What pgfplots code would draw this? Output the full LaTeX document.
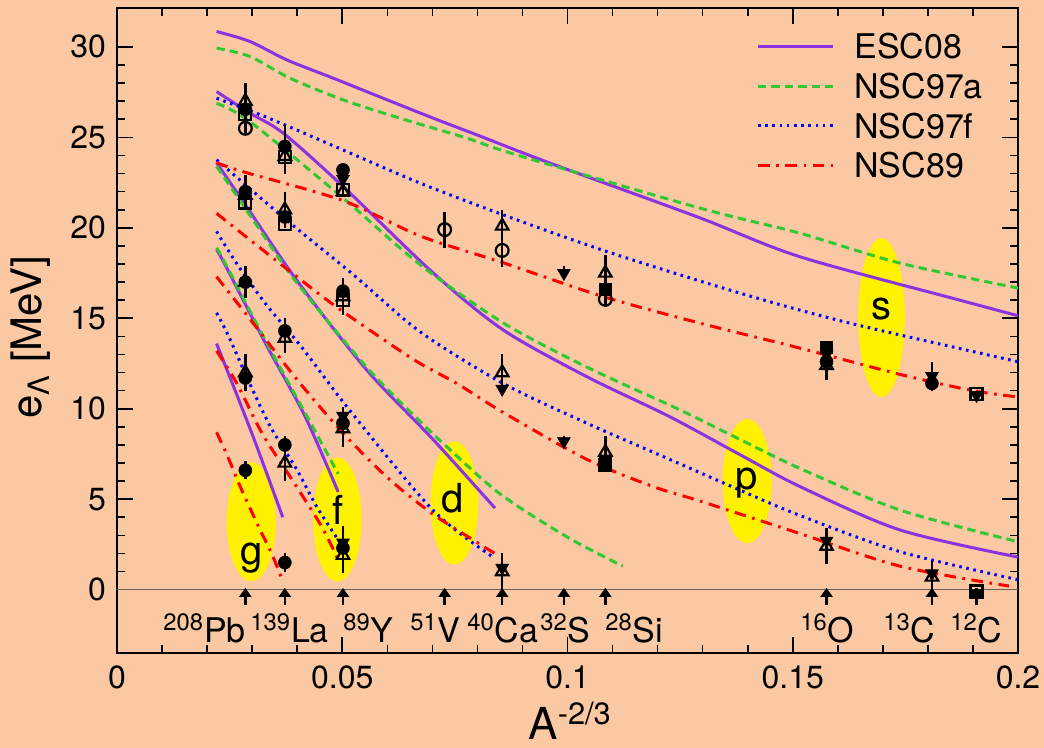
\documentclass[border=0pt]{standalone}
\usepackage{fontspec}
\setmainfont{TeX Gyre Heros}
\usepackage{pgfplots}
\pgfplotsset{compat=1.18}
\usetikzlibrary{arrows.meta}
\definecolor{bg}{RGB}{250,200,162}
\definecolor{esc}{RGB}{140,50,225}
\definecolor{nsca}{RGB}{50,200,50}
\definecolor{nscf}{RGB}{0,0,255}
\definecolor{nscr}{RGB}{255,0,0}
\definecolor{zl}{RGB}{110,95,85}
\tikzset{
  escs/.style={esc, line width=1.5pt, solid},
  nscas/.style={nsca, line width=1.5pt, dash pattern=on 4.2pt off 2.5pt},
  nscfs/.style={nscf, line width=1.5pt, dash pattern=on 1.3pt off 2.3pt},
  nscrs/.style={nscr, line width=1.5pt, dash pattern=on 5.8pt off 3.3pt on 1.3pt off 3.3pt},
}
\pgfplotsset{
  ebar/.style={error bars/.cd, y dir=both, y explicit, error mark=none,
    error bar style={line width=1.2pt, black, solid}},
}
\begin{document}
\begin{tikzpicture}
\fill[bg] (-58.5pt,-47.5pt) rectangle (463.5pt,326.5pt);
\begin{axis}[
  at={(0,0)}, anchor=south west,
  scale only axis, width=450.5pt, height=322.5pt,
  xmin=0, xmax=0.2, ymin=-3.5, ymax=32.15,
  xtick={0,0.05,0.1,0.15,0.2}, xticklabels={0,0.05,0.1,0.15,0.2},
  ytick={0,5,...,30},
  minor x tick num=4, minor y tick num=4,
  tick align=inside,
  major tick length=8pt, minor tick length=4pt,
  every tick/.style={black, line width=0.8pt},
  axis line style={line width=1.3pt},
  scaled x ticks=false,
  /pgf/number format/assume math mode=true,
  tick label style={font=\fontsize{16}{19}\selectfont},
  xticklabel style={yshift=-3pt},
  yticklabel style={xshift=-2pt},
]
% highlight ellipses
\fill[yellow] (axis cs:0.0298,3.75) ellipse [x radius=0.00544, y radius=3.29];
\fill[yellow] (axis cs:0.04893,3.88) ellipse [x radius=0.00537, y radius=3.43];
\fill[yellow] (axis cs:0.0749,4.79) ellipse [x radius=0.00529, y radius=3.41];
\fill[yellow] (axis cs:0.1399,6.0) ellipse [x radius=0.00544, y radius=3.43];
\fill[yellow] (axis cs:0.1697,15.04) ellipse [x radius=0.00518, y radius=4.39];
% zero line
\addplot[zl, line width=0.7pt] coordinates {(0,0) (0.2,0)};
% ESC08
\addplot[escs, smooth] coordinates {(0.0221,30.85) (0.0295,30.3) (0.0377,29.28) (0.048,28.27) (0.0591,27.16) (0.0702,26.06) (0.0813,25.0) (0.0895,24.2) (0.1,23.22) (0.1294,20.55) (0.1516,18.4) (0.1871,16.0) (0.2,15.14)};
\addplot[escs, smooth] coordinates {(0.0221,27.53) (0.0295,26.34) (0.0369,25.23) (0.0502,22.28) (0.0702,17.5) (0.0857,14.36) (0.1043,11.77) (0.1227,9.56) (0.1383,7.46) (0.1516,5.7) (0.1738,3.3) (0.2,1.8)};
\addplot[escs, smooth] coordinates {(0.0221,23.6) (0.0295,20.9) (0.0399,17.1) (0.0554,12.15) (0.0702,8.29) (0.0839,4.51)};
\addplot[escs, smooth] coordinates {(0.0221,18.8) (0.024,17.95) (0.033,13.6) (0.0417,9.6) (0.0491,5.4)};
\addplot[escs, smooth] coordinates {(0.0221,13.6) (0.030,8.6) (0.0368,4.0)};
% NSC97a
\addplot[nscas, smooth] coordinates {(0.0221,29.93) (0.0295,29.47) (0.0384,28.27) (0.0502,27.07) (0.0628,26.06) (0.0776,24.96) (0.0887,24.03) (0.1294,21.09) (0.1516,19.7) (0.1738,18.05) (0.2,16.67)};
\addplot[nscas, smooth] coordinates {(0.0221,26.88) (0.0295,25.87) (0.0502,21.64) (0.0673,17.96) (0.0857,14.75) (0.1043,12.3) (0.1227,10.2) (0.1294,9.4) (0.1383,8.3) (0.1516,6.7) (0.1738,4.4) (0.2,2.65)};
\addplot[nscas, smooth] coordinates {(0.0221,23.4) (0.0295,20.7) (0.0395,17.1) (0.0554,12.3) (0.0673,9.3) (0.0732,7.9) (0.085,5.3) (0.10,2.9) (0.1123,1.3)};
\addplot[nscas, smooth] coordinates {(0.0221,18.9) (0.024,18.05) (0.033,13.75) (0.0417,9.8) (0.0441,8.7) (0.0491,6.4)};
% NSC97f
\addplot[nscfs, smooth] coordinates {(0.0221,27.16) (0.0333,26.1) (0.0502,24.3) (0.0673,22.47) (0.0857,20.72) (0.1087,18.69) (0.1383,16.39) (0.1627,14.73) (0.2,12.6)};
\addplot[nscfs, smooth] coordinates {(0.0221,23.76) (0.0373,20.5) (0.0525,17.4) (0.0673,14.25) (0.0857,11.4) (0.1043,9.2) (0.1227,7.2) (0.1383,5.5) (0.1516,4.1) (0.1738,2.1) (0.2,0.55)};
\addplot[nscfs, smooth] coordinates {(0.0221,19.8) (0.0269,17.9) (0.0333,15.7) (0.041,13.4) (0.0517,9.9) (0.0701,4.4) (0.0835,1.8)};
\addplot[nscfs, smooth] coordinates {(0.0221,15.3) (0.0246,14.1) (0.030,11.1) (0.0343,8.9) (0.040,6.6) (0.0443,4.6) (0.0495,2.6)};
% NSC89
\addplot[nscrs, smooth] coordinates {(0.0221,23.6) (0.028,23.1) (0.0502,21.5) (0.0673,19.55) (0.0857,18.07) (0.1079,16.2) (0.1294,14.73) (0.1516,13.35) (0.1738,11.9) (0.19,11.0) (0.2,10.65)};
\addplot[nscrs, smooth] coordinates {(0.0221,20.8) (0.0456,16.2) (0.0599,13.7) (0.0673,12.5) (0.0754,11.4) (0.0857,9.8) (0.1043,7.2) (0.119,5.7) (0.1294,4.9) (0.1516,3.1) (0.1738,1.3) (0.198,0.2)};
\addplot[nscrs, smooth] coordinates {(0.0221,17.3) (0.03,14.8) (0.04,11.6) (0.05,8.7) (0.06,6.2) (0.07,4.2) (0.08,2.6) (0.0839,2.0)};
\addplot[nscrs, smooth] coordinates {(0.0221,13.2) (0.0266,11.4) (0.0323,8.6) (0.0388,6.1) (0.0454,3.5) (0.049,1.7)};
\addplot[nscrs, smooth] coordinates {(0.0221,8.7) (0.0245,7.4) (0.0277,5.5) (0.0314,3.5) (0.0345,1.9) (0.0366,0.6)};
% data: open squares
\addplot[only marks, mark=square, mark size=3pt, black, mark options={fill=bg, line width=1.1pt}] coordinates {
(0.02849,26.3) (0.03726,23.9) (0.02849,21.4) (0.03726,20.2) (0.05016,22.1) (0.05016,16.0) (0.1084,6.9) (0.1908,10.8) (0.1908,-0.1)};
% filled squares
\addplot[only marks, mark=square*, mark size=3pt, black, ebar] coordinates {
(0.1084,16.6) +- (0,0.3) (0.1084,7.0) +- (0,0.3) (0.1575,13.4) +- (0,0.3)};
% open circles
\addplot[only marks, mark=o, mark size=3.2pt, black, mark options={fill=bg, line width=1.1pt}, ebar] coordinates {
(0.02849,25.5) +- (0,0.3) (0.07273,19.9) +- (0,1.0) (0.0855,18.75) +- (0,0.9) (0.1084,16.05) +- (0,0.45)};
% open triangles
\addplot[only marks, mark=triangle, mark size=3.6pt, black, mark options={fill=bg, line width=1.1pt}, ebar] coordinates {
(0.02849,27.0) +- (0,1.0) (0.03726,23.95) +- (0,1.0) (0.02849,21.8) +- (0,0.6) (0.03726,21.0) +- (0,1.0)
(0.02849,17.0) +- (0,0.5) (0.03726,13.9) +- (0,0.8) (0.02849,12.0) +- (0,1.0) (0.03726,7.0) +- (0,1.0)
(0.05016,22.0) +- (0,0.3) (0.05016,16.2) +- (0,1.0) (0.05016,8.9) +- (0,1.0) (0.05016,1.9) +- (0,1.0)
(0.0855,20.1) +- (0,0.9) (0.0855,12.0) +- (0,1.0) (0.0855,1.0) +- (0,1.0)
(0.1084,17.5) +- (0,1.0) (0.1084,7.6) +- (0,0.9) (0.1575,12.4) +- (0,0.8) (0.1575,2.4) +- (0,1.0) (0.1809,0.7) +- (0,0.9)};
% filled circles
\addplot[only marks, mark=*, mark size=3.2pt, black, ebar] coordinates {
(0.02849,26.55) +- (0,0.4) (0.03726,24.5) +- (0,1.2) (0.02849,22.0) +- (0,0.9) (0.03726,20.6) +- (0,0.4)
(0.02849,17.0) +- (0,0.9) (0.03726,14.3) +- (0,0.7) (0.02849,11.7) +- (0,0.6) (0.03726,8.0) +- (0,0.5)
(0.02849,6.6) +- (0,0.5) (0.03726,1.5) +- (0,0.5) (0.05016,23.2) +- (0,0.3) (0.05016,16.5) +- (0,0.3)
(0.05016,9.2) +- (0,0.5) (0.05016,2.3) +- (0,1.2) (0.1575,12.6) +- (0,0.4) (0.1809,11.4) +- (0,0.3)};
% filled down triangles
\addplot[only marks, mark=triangle*, mark size=3.6pt, black, mark options={rotate=180}, ebar] coordinates {
(0.05016,22.7) +- (0,0.2) (0.05016,9.6) +- (0,0.5) (0.05016,2.6) +- (0,0.3) (0.0855,11.1) +- (0,0.4)
(0.0855,1.2) +- (0,0.3) (0.0992,17.5) +- (0,0.4) (0.0992,8.2) +- (0,0.3) (0.1575,13.0) +- (0,0.3)
(0.1575,2.7) +- (0,0.5) (0.1809,11.8) +- (0,0.8) (0.1809,0.9) +- (0,0.5) (0.1908,10.75) +- (0,0.2) (0.1908,-0.2) +- (0,0.3)};
% arrows marking the nuclei
\addplot[black, line width=1.3pt, mark=none, -{Triangle[width=6pt,length=4.5pt]},
  quiver={u=0, v=0.93}] coordinates {
(0.02849,-0.83) (0.03726,-0.83) (0.05016,-0.83) (0.07273,-0.83) (0.0855,-0.83)
(0.0992,-0.83) (0.1084,-0.83) (0.1575,-0.83) (0.1809,-0.83) (0.1908,-0.83)};
% nucleus labels
\begin{scope}[every node/.style={anchor=base west, inner sep=0pt, font=\fontsize{17}{20}\selectfont}]
\node at (axis cs:0.01021,-2.93) {\textsuperscript{208}Pb};
\node at (axis cs:0.02952,-2.93) {\textsuperscript{139}La};
\node at (axis cs:0.05017,-2.93) {\textsuperscript{89}Y};
\node at (axis cs:0.06504,-2.93) {\textsuperscript{51}V};
\node at (axis cs:0.07769,-2.93) {\textsuperscript{40}Ca};
\node at (axis cs:0.09390,-2.93) {\textsuperscript{32}S};
\node at (axis cs:0.10833,-2.93) {\textsuperscript{28}Si};
\node at (axis cs:0.15161,-2.93) {\textsuperscript{16}O};
\node at (axis cs:0.17003,-2.93) {\textsuperscript{13}C};
\node at (axis cs:0.18491,-2.93) {\textsuperscript{12}C};
\end{scope}
% orbital letters
\begin{scope}[every node/.style={anchor=base, inner sep=0pt, font=\fontsize{20}{24}\selectfont}]
\node at (axis cs:0.0298,1.38) {g};
\node at (axis cs:0.0491,3.59) {f};
\node at (axis cs:0.0746,4.25) {d};
\node at (axis cs:0.1398,5.52) {p};
\node at (axis cs:0.1698,14.92) {s};
\end{scope}
\end{axis}
% legend
\draw[escs] (320.5pt,303.2pt) -- (358pt,303.2pt);
\draw[nscas] (320.5pt,283.2pt) -- (358pt,283.2pt);
\draw[nscfs] (320.5pt,263.5pt) -- (358pt,263.5pt);
\draw[nscrs] (320.5pt,243.7pt) -- (358pt,243.7pt);
\begin{scope}[every node/.style={anchor=base west, inner sep=0pt, font=\fontsize{17}{20}\selectfont}]
\node at (368.5pt,297.1pt) {ESC08};
\node at (368.5pt,277.1pt) {NSC97a};
\node at (368.5pt,257.4pt) {NSC97f};
\node at (368.5pt,237.6pt) {NSC89};
\end{scope}
% axis labels
\node[rotate=90, anchor=base, inner sep=0pt, font=\fontsize{21}{25}\selectfont] at (-37.5pt,158pt) {e\textsubscript{Λ} [MeV]};
\node[anchor=base west, inner sep=0pt, font=\fontsize{22}{26}\selectfont] at (205.5pt,-43.5pt) {A\textsuperscript{-2/3}};
\pgfresetboundingbox
\useasboundingbox (-58.5pt,-47.5pt) rectangle (463.5pt,326.5pt);
\end{tikzpicture}
\end{document}
